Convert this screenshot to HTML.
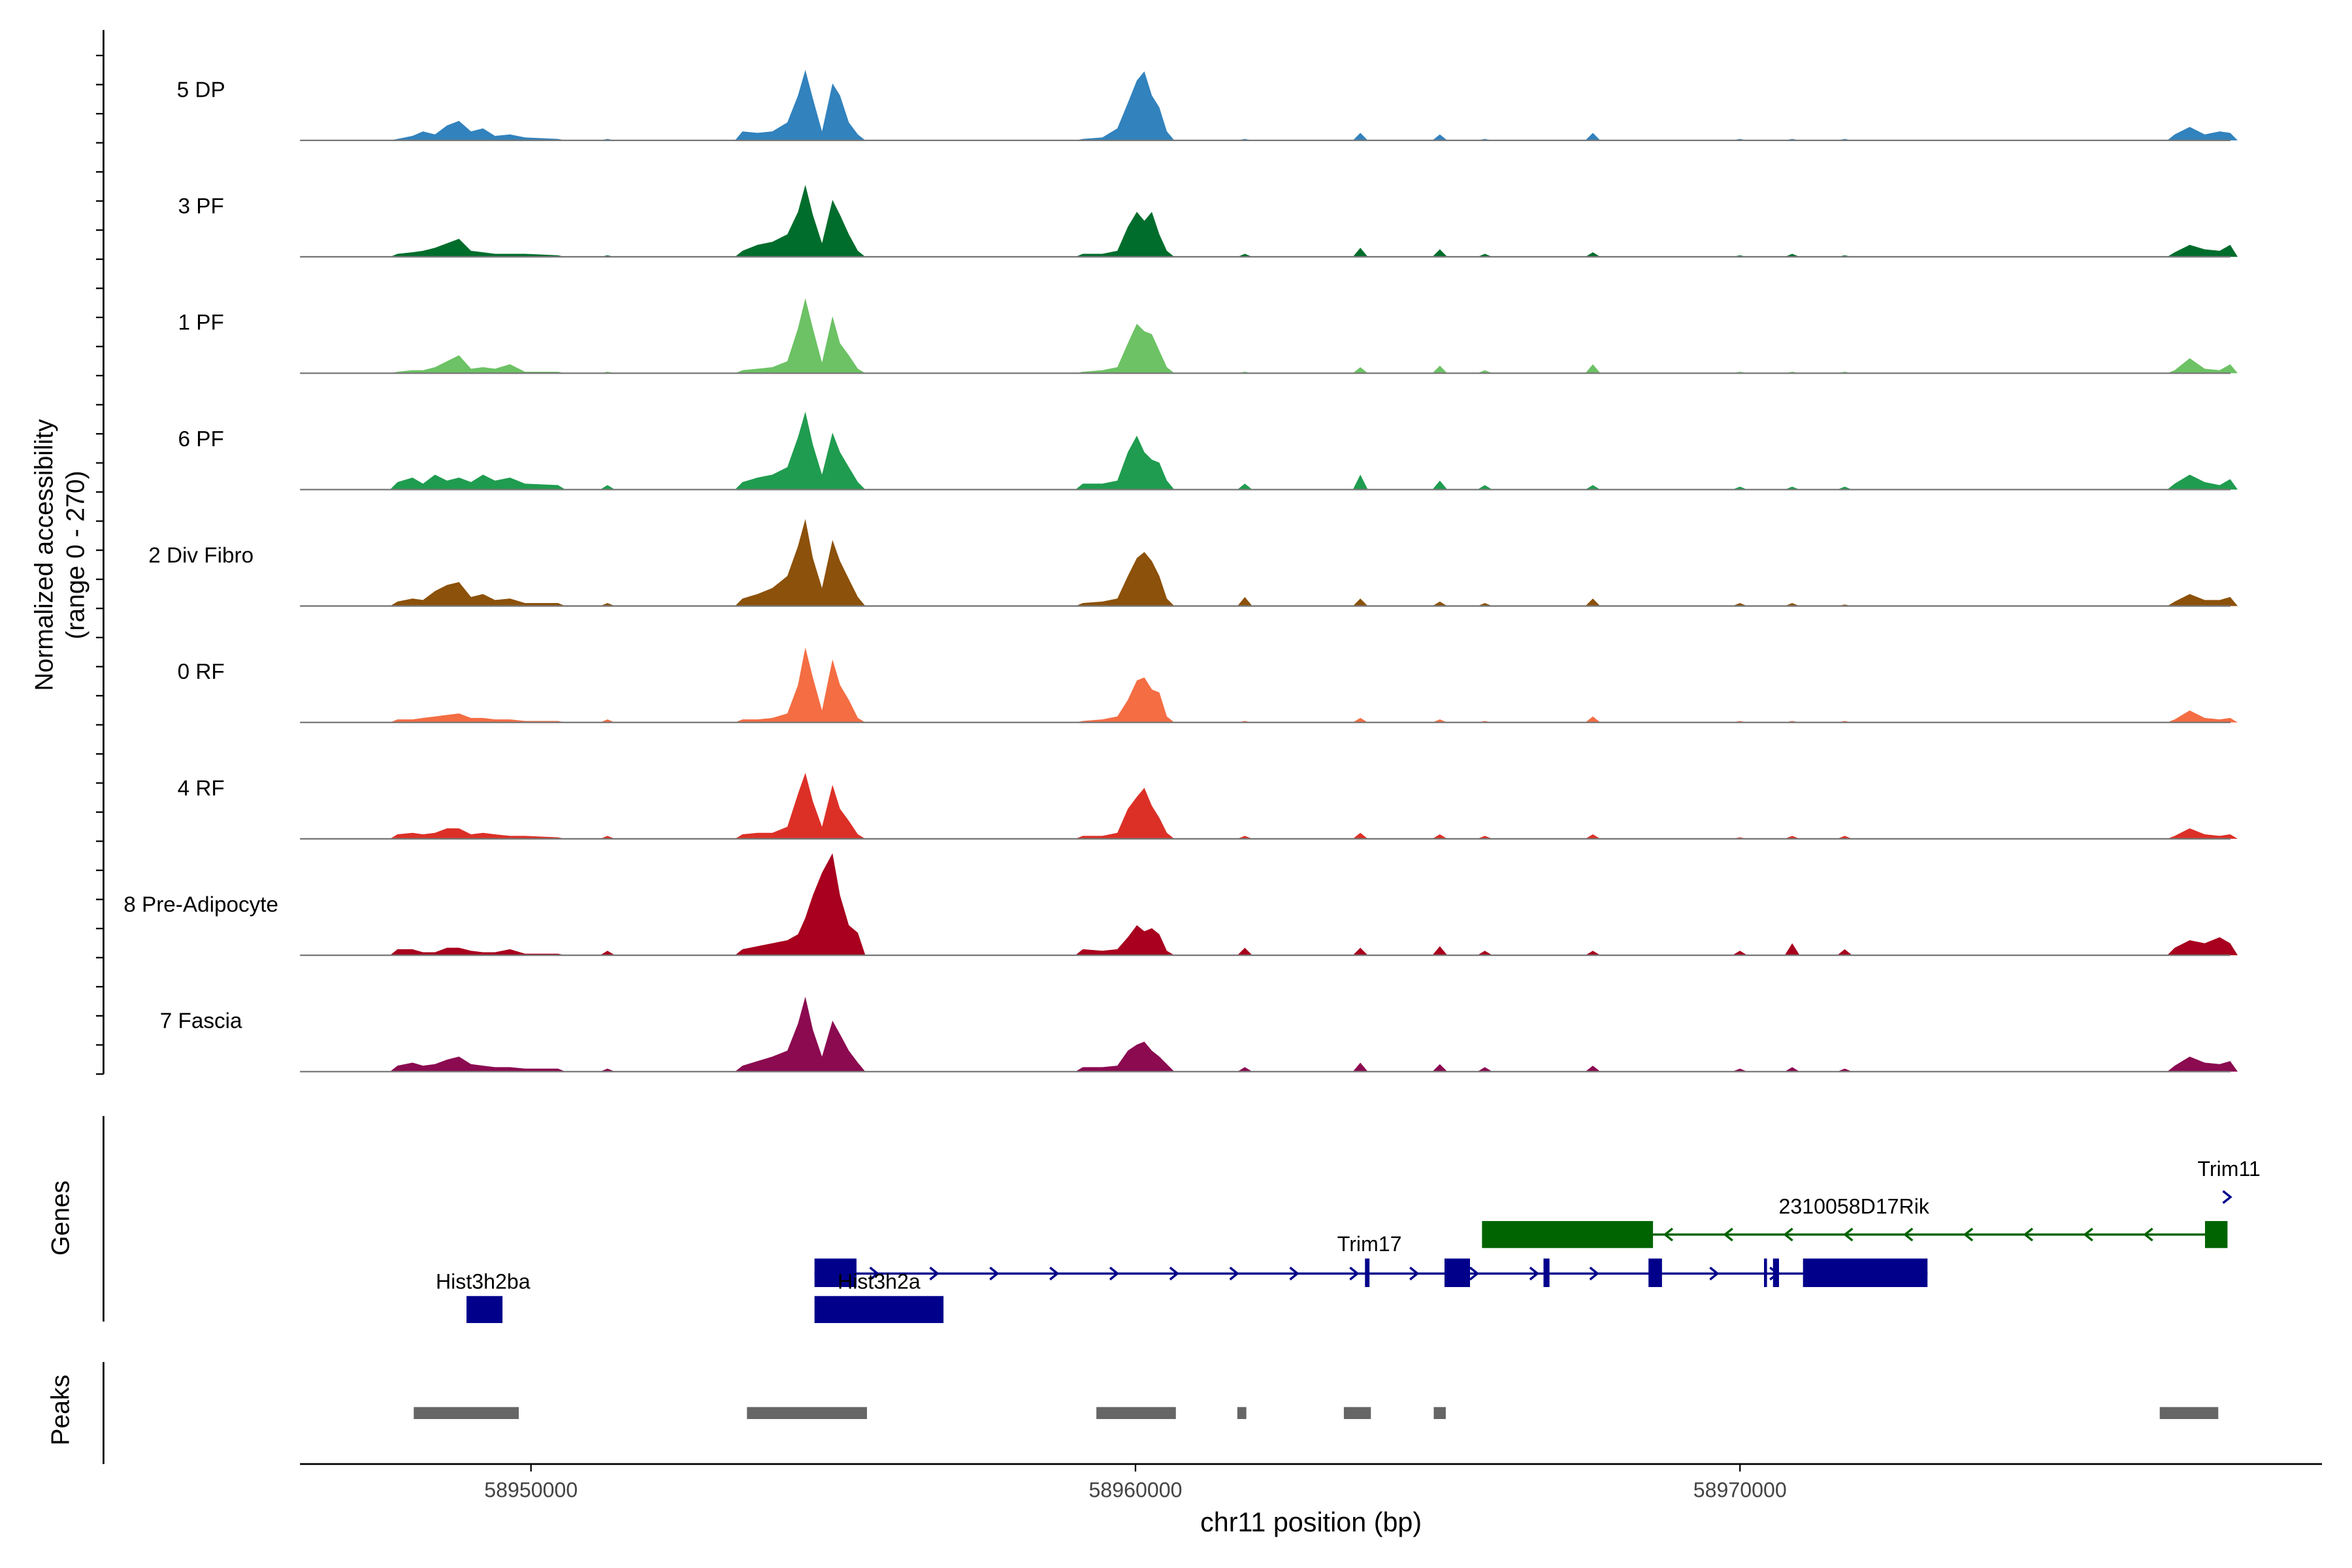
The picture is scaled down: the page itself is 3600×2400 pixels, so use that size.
<!DOCTYPE html>
<html><head><meta charset="utf-8">
<style>
html,body{margin:0;padding:0;background:#fff;}
svg{display:block;font-family:"Liberation Sans",Arial,sans-serif;}
</style></head>
<body>
<svg id="chart" width="3600" height="2400" viewBox="0 0 1568 1045.3" preserveAspectRatio="none" xmlns="http://www.w3.org/2000/svg">
<rect width="1568" height="1046" fill="#fff"/>
<g id="tracks"></g>
<g id="axes">
  <line x1="69" y1="20" x2="69" y2="716" stroke="#000" stroke-width="1.2"/>
  <g id="yticks"></g>
  <text transform="translate(35,370) rotate(-90)" text-anchor="middle" font-size="17">Normalized accessibility</text>
  <text transform="translate(56,370) rotate(-90)" text-anchor="middle" font-size="17">(range 0 - 270)</text>
  <line x1="69" y1="744" x2="69" y2="881" stroke="#000" stroke-width="1.2"/>
  <text transform="translate(46,812) rotate(-90)" text-anchor="middle" font-size="17">Genes</text>
  <line x1="69" y1="908" x2="69" y2="976" stroke="#000" stroke-width="1.2"/>
  <text transform="translate(46,940) rotate(-90)" text-anchor="middle" font-size="17">Peaks</text>
  <line x1="200" y1="976" x2="1548" y2="976" stroke="#000" stroke-width="1.2"/>
  <g id="xticks"></g>
  <text x="874" y="1021" text-anchor="middle" font-size="18">chr11 position (bp)</text>
</g>
<g id="genes"></g>
<g id="peaks"></g>
</svg>
<script>
const trackNames = ["5 DP","3 PF","1 PF","6 PF","2 Div Fibro","0 RF","4 RF","8 Pre-Adipocyte","7 Fascia"];
const trackColors = ["#3182bd","#006d2c","#6cc264","#1f9c4f","#8c510a","#f46d43","#dc3027","#a8001e","#8b0a50"];
const positions = [58947792,58948040,58948213,58948412,58948610,58948809,58949007,58949206,58949404,58949652,58949901,58950446,58951265,58953498,58953746,58953994,58954242,58954416,58954540,58954664,58954813,58954987,58955111,58955259,58955408,58959130,58959452,58959700,58959874,58960023,58960147,58960271,58960395,58960519,58961809,58963720,58965035,58965779,58967565,58969997,58970865,58971733,58977192,58977440,58977688,58977936,58978109];
const v5DP = [1,3,6,4,10,13,6,8,3,4,2,1,1,6,5,6,12,30,47,28,6,38,30,12,4,1,2,8,25,40,46,30,22,6,1,5,4,1,5,1,1,1,4,9,4,6,5];
const v3PF = [2,3,4,6,9,12,4,3,2,2,2,1,1,4,8,10,15,30,48,28,9,38,28,15,4,2,2,4,20,30,24,30,15,4,2,6,5,2,3,1,2,1,3,8,5,4,8];
const v1PF = [1,2,2,4,8,12,3,4,3,6,1,1,1,2,3,4,8,30,50,30,7,38,20,12,3,1,2,4,20,33,28,26,15,4,1,4,5,2,6,1,1,1,2,10,3,2,6];
const v6PF = [5,8,4,10,6,8,5,10,6,8,4,3,3,5,8,10,15,35,52,30,10,38,25,15,5,4,4,6,25,36,25,20,18,6,4,10,6,3,3,2,2,2,4,10,5,3,7];
const v2Div = [3,5,4,10,14,16,6,8,4,5,2,2,2,5,8,12,20,40,58,32,12,44,30,18,6,2,3,5,20,32,36,30,20,5,6,5,3,2,5,2,2,1,3,8,4,4,6];
const v0RF = [2,2,3,4,5,6,3,3,2,2,1,1,2,2,2,3,6,25,50,30,8,42,25,15,3,1,2,4,15,28,30,22,20,4,1,3,2,1,4,1,1,1,2,8,3,2,3];
const v4RF = [3,4,3,4,7,7,3,4,3,2,2,1,2,3,4,4,8,30,44,25,8,36,20,12,3,2,2,4,20,28,34,22,14,4,2,4,3,2,3,1,2,2,2,7,3,2,3];
const v8PA = [4,4,2,2,5,5,3,2,2,4,1,1,3,4,6,8,10,14,25,40,55,68,40,20,15,4,3,4,12,20,16,18,14,3,5,5,6,3,3,3,8,4,5,10,8,12,8];
const v7Fa = [4,6,4,5,8,10,5,4,3,3,2,2,2,4,7,10,14,32,50,28,10,34,25,14,6,3,3,4,14,18,20,14,10,5,3,6,5,3,4,2,3,2,4,10,6,5,7];
const seriesValues = [v5DP,v3PF,v1PF,v6PF,v2Div,v0RF,v4RF,v8PA,v7Fa];
const xTickValues = [58950000,58960000,58970000];
const xTickLabels = ["58950000","58960000","58970000"];
const genomeMin = 58946179, genomeMax = 58979628;
const valueMax = 77.6;

const NS="http://www.w3.org/2000/svg";
function mk(tag, attrs, parent){const e=document.createElementNS(NS,tag);for(const k in attrs)e.setAttribute(k,attrs[k]);parent.appendChild(e);return e;}
function xScale(bp){return 200+(bp-genomeMin)/(genomeMax-genomeMin)*1348;}
const trackTop0=16, trackH=77.6;
function baseY(i){return trackTop0+(i+1)*trackH;}
function yScale(v,i){return baseY(i)-v/valueMax*trackH;}

const tg=document.getElementById('tracks');
const gapBp=700, pad=5;
trackNames.forEach((name,i)=>{
  const g=mk('g',{},tg);
  
  
  const vals=seriesValues[i];
  const b=baseY(i);
  let d='';
  let j=0;
  while(j<positions.length){
    let k=j;
    while(k+1<positions.length && positions[k+1]-positions[k]<=gapBp) k++;
    d+=`M${(xScale(positions[j])-pad).toFixed(1)},${b}`;
    for(let m=j;m<=k;m++){
      d+=`L${xScale(positions[m]).toFixed(1)},${yScale(vals[m],i).toFixed(1)}`;
    }
    d+=`L${(xScale(positions[k])+pad).toFixed(1)},${b}Z`;
    j=k+1;
  }
  const a=mk('path',{d:d,fill:trackColors[i]},g);
  
  
  const bl=mk('line',{x1:200,x2:1487,y1:b,y2:b,stroke:'#777','stroke-width':1},g);
  
  
  const t=mk('text',{x:134,y:b-29,'text-anchor':'middle','font-size':14.5},g);
  t.textContent=name;
  
  
});
const yt=document.getElementById('yticks');
for(let y=37;y<716;y+=19.4){const l=mk('line',{x1:64,x2:69,y1:y,y2:y,stroke:'#000','stroke-width':1},yt);

}
const xt=document.getElementById('xticks');
xTickValues.forEach((v,k)=>{const x=xScale(v);
const l=mk('line',{x1:x,x2:x,y1:976,y2:981,stroke:'#000'},xt);


const t=mk('text',{x:x,y:998,'text-anchor':'middle','font-size':14,fill:'#444'},xt);
t.textContent=xTickLabels[k];

});

// genes
const gg=document.getElementById('genes');
function rect(x1,x2,y1,y2,c,name){const r=mk('rect',{x:x1,y:y1,width:x2-x1,height:y2-y1,fill:c},gg);}
function label(x,y,s,name){const t=mk('text',{x:x,y:y,'text-anchor':'middle','font-size':14},gg);t.textContent=s;}
const navy="#00008b", green="#006400";
mk('line',{x1:543,x2:1285,y1:849,y2:849,stroke:navy,'stroke-width':1.5},gg);
for(let x=583;x<1200;x+=40){mk('path',{d:`M${x-3},${845}L${x+2},849L${x-3},853`,fill:'none',stroke:navy,'stroke-width':1.5},gg);}
rect(311,335,864,882,navy,'hist3h2ba-exon');
rect(543,571,839,858,navy,'hist3h2a-exon');
rect(543,629,864,882,navy,'hist3h2a-exon-2');
rect(910,913,839,858,navy,'trim17-exon');
rect(963,980,839,858,navy,'trim17-exon-2');
rect(1029,1033,839,858,navy,'trim17-exon-3');
rect(1099,1108,839,858,navy,'trim17-exon-4');
rect(1176,1178,839,858,navy,'trim17-exon-5');
rect(1182,1186,839,858,navy,'trim17-exon-6');
rect(1202,1285,839,858,navy,'trim17-exon-7');
mk('line',{x1:1102,x2:1470,y1:823,y2:823,stroke:green,'stroke-width':1.5},gg);
for(let x=1112;x<1460;x+=40){mk('path',{d:`M${x+3},819L${x-2},823L${x+3},827`,fill:'none',stroke:green,'stroke-width':1.5},gg);}
rect(988,1102,814,832,green,'rik-exon');
rect(1470,1485,814,832,green,'rik-exon-2');
mk('path',{d:'M1482,794L1487,798L1482,802',fill:'none',stroke:navy,'stroke-width':1.5},gg);
label(322,859,'Hist3h2ba','hist3h2ba-label');
label(586,859,'Hist3h2a','hist3h2a-label');
label(913,834,'Trim17','trim17-label');
label(1236,809,'2310058D17Rik','rik-label');
label(1486,784,'Trim11','trim11-label');

// peaks
const peakStarts=[58948061,58953573,58959353,58961685,58963447,58964934,58976944];
const peakEnds=[58949798,58955558,58960668,58961834,58963894,58965133,58977912];
const pg=document.getElementById('peaks');
peakStarts.forEach((s,k)=>{const x1=xScale(s),x2=xScale(peakEnds[k]);
const r=mk('rect',{x:x1,y:938,width:x2-x1,height:8,fill:'#666'},pg);

});
</script>
</body></html>
